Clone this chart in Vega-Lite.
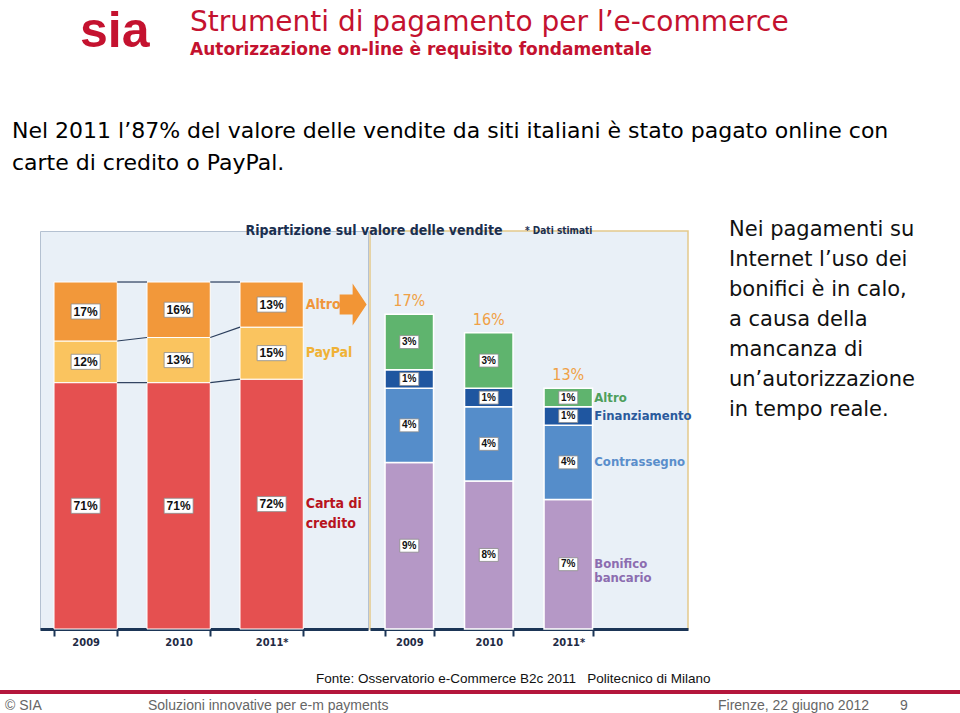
{
  "$schema": "https://vega.github.io/schema/vega-lite/v6.json",
  "padding": 0,
  "background": "white",
  "spacing": 0,
  "config": {"view": {"stroke": null}},
  "datasets": {
    "logo": [{"mark": "sia"}],
    "pay": [
      {"year": "2009", "cat": "Carta di\ncredito", "k": 1, "share": 0.71},
      {"year": "2009", "cat": "PayPal", "k": 2, "share": 0.12},
      {"year": "2009", "cat": "Altro", "k": 3, "share": 0.17},
      {"year": "2010", "cat": "Carta di\ncredito", "k": 1, "share": 0.71},
      {"year": "2010", "cat": "PayPal", "k": 2, "share": 0.13},
      {"year": "2010", "cat": "Altro", "k": 3, "share": 0.16},
      {"year": "2011*", "cat": "Carta di\ncredito", "k": 1, "share": 0.72},
      {"year": "2011*", "cat": "PayPal", "k": 2, "share": 0.15},
      {"year": "2011*", "cat": "Altro", "k": 3, "share": 0.13}
    ],
    "alt": [
      {"year": "2009", "cat": "Bonifico\nbancario", "k": 1, "share": 0.09},
      {"year": "2009", "cat": "Contrassegno", "k": 2, "share": 0.04},
      {"year": "2009", "cat": "Finanziamento", "k": 3, "share": 0.01},
      {"year": "2009", "cat": "Altro", "k": 4, "share": 0.03},
      {"year": "2010", "cat": "Bonifico\nbancario", "k": 1, "share": 0.08},
      {"year": "2010", "cat": "Contrassegno", "k": 2, "share": 0.04},
      {"year": "2010", "cat": "Finanziamento", "k": 3, "share": 0.01},
      {"year": "2010", "cat": "Altro", "k": 4, "share": 0.03},
      {"year": "2011*", "cat": "Bonifico\nbancario", "k": 1, "share": 0.07},
      {"year": "2011*", "cat": "Contrassegno", "k": 2, "share": 0.04},
      {"year": "2011*", "cat": "Finanziamento", "k": 3, "share": 0.01},
      {"year": "2011*", "cat": "Altro", "k": 4, "share": 0.01}
    ]
  },
  "vconcat": [
    {
      "width": 160,
      "height": 120,
      "data": {"name": "logo"},
      "title": {
        "text": "Strumenti di pagamento per l’e-commerce",
        "subtitle": "Autorizzazione on-line è requisito fondamentale",
        "anchor": "start",
        "dx": 190,
        "offset": -58,
        "font": "'DejaVu Sans', sans-serif",
        "fontSize": 28,
        "fontWeight": "normal",
        "color": "#C4122F",
        "subtitleFont": "'DejaVu Sans', sans-serif",
        "subtitleFontSize": 17,
        "subtitleFontWeight": "bold",
        "subtitleColor": "#C4122F",
        "subtitlePadding": 5
      },
      "mark": {"type": "text", "align": "left", "baseline": "alphabetic", "dx": 0, "dy": -13, "font": "'Liberation Sans', Arial, sans-serif", "fontSize": 50, "fontWeight": "bold", "color": "#C4122F"},
      "encoding": {"text": {"field": "mark"}}
    },
    {
      "spacing": 0,
      "title": {
        "text": ["Nel 2011 l’87% del valore delle vendite da siti italiani è stato pagato online con", "carte di credito o PayPal."],
        "anchor": "start",
        "dx": 12,
        "offset": 44,
        "font": "'DejaVu Sans', sans-serif",
        "fontSize": 22,
        "fontWeight": "normal",
        "lineHeight": 32,
        "color": "#000000"
      },
      "hconcat": [
        {"width": 39, "height": 440, "data": {"values": []}, "mark": "text"},
        {
          "spacing": 0,
          "resolve": {"scale": {"color": "independent", "fill": "independent", "x": "independent", "y": "independent"}},
          "title": {"text": "Ripartizione sul valore delle vendite", "anchor": "start", "dx": 206, "offset": -13, "font": "'Liberation Sans Narrow', 'DejaVu Sans Condensed', 'Liberation Sans', sans-serif", "fontSize": 14, "fontWeight": "bold", "color": "#1B2F50"},
          "hconcat": [
            {
              "width": 328,
              "height": 398,
              "data": {"name": "pay"},
              "view": {"fill": "#E9F0F7", "stroke": "#B4C1D1", "strokeWidth": 1},
              "transform": [{"stack": "share", "groupby": ["year"], "sort": [{"field": "k", "order": "ascending"}], "as": ["v0", "v1"]}],
              "encoding": {
                "x": {
                  "field": "year", "type": "nominal",
                  "scale": {"paddingInner": 0.32, "paddingOuter": 0.4235, "align": 0.178},
                  "axis": {"title": null, "labelAngle": 0, "domainColor": "#1B3556", "domainWidth": 3, "tickColor": "#1B3556", "tickWidth": 2, "tickSize": 7, "tickBand": "extent", "labelFont": "'Liberation Sans Narrow', 'DejaVu Sans Condensed', 'Liberation Sans', sans-serif", "labelFontSize": 11, "labelFontWeight": "bold", "labelColor": "#1F2B45", "labelPadding": 0, "grid": false}
                }
              },
              "layer": [
                {
                  "mark": {"type": "bar", "stroke": "white", "strokeWidth": 1},
                  "encoding": {
                    "y": {"field": "v0", "type": "quantitative", "scale": {"domain": [0, 1.147], "nice": false}, "axis": null},
                    "y2": {"field": "v1"},
                    "color": {"field": "cat", "type": "nominal", "scale": {"domain": ["Carta di\ncredito", "PayPal", "Altro"], "range": ["#E55050", "#FAC45F", "#F2983A"]}, "legend": null}
                  }
                },
                {
                  "transform": [
                    {"window": [{"op": "lead", "field": "v1", "as": "nv1"}, {"op": "lead", "field": "year", "as": "nyear"}], "groupby": ["cat"], "sort": [{"field": "year", "order": "ascending"}]},
                    {"filter": "datum.nyear != null"}
                  ],
                  "mark": {"type": "rule", "color": "#2B3E5C", "strokeWidth": 1.2},
                  "encoding": {
                    "x": {"field": "year", "type": "nominal", "bandPosition": 1},
                    "x2": {"field": "nyear", "bandPosition": 0},
                    "y": {"field": "v1", "type": "quantitative", "scale": {"domain": [0, 1.147], "nice": false}},
                    "y2": {"field": "nv1"}
                  }
                },
                {
                  "transform": [
                    {"fold": ["v0", "v1"], "as": ["edge", "pos"]},
                    {"aggregate": [{"op": "mean", "field": "pos", "as": "mid"}], "groupby": ["year", "cat", "share"]}
                  ],
                  "encoding": {"y": {"field": "mid", "type": "quantitative", "scale": {"domain": [0, 1.147], "nice": false}}},
                  "layer": [
                    {"mark": {"type": "point", "shape": "M-1,-0.52H1V0.52H-1Z", "size": 841, "filled": true, "fill": "white", "stroke": "#8C8C8C", "strokeWidth": 0.8, "opacity": 1}},
                    {"mark": {"type": "text", "font": "'Liberation Sans', Arial, sans-serif", "fontSize": 12, "fontWeight": "bold", "color": "#111111"}, "encoding": {"text": {"field": "share", "format": ".0%"}}},
                    {
                      "transform": [{"filter": "datum.year == '2011*'"}],
                      "mark": {"type": "text", "align": "left", "dx": 34, "font": "'Liberation Sans Narrow', 'DejaVu Sans Condensed', 'Liberation Sans', sans-serif", "fontSize": 14, "fontWeight": "bold", "lineBreak": "\n", "lineHeight": 20},
                      "encoding": {
                        "text": {"field": "cat"},
                        "fill": {"field": "cat", "type": "nominal", "scale": {"domain": ["Carta di\ncredito", "PayPal", "Altro"], "range": ["#B8141E", "#F0B236", "#F0963A"]}, "legend": null}
                      }
                    },
                    {
                      "transform": [{"filter": "datum.year == '2011*' && datum.cat == 'Altro'"}],
                      "mark": {"type": "point", "shape": "M3.4,-0.5H4.05V-1.05L4.75,0L4.05,1.05V0.5H3.4Z", "size": 1600, "filled": true, "fill": "#F29535", "strokeWidth": 0, "opacity": 1}
                    }
                  ]
                }
              ]
            },
            {
              "width": 318,
              "height": 398,
              "data": {"name": "alt"},
              "view": {"fill": "#E9F0F7", "stroke": "#E3C98C", "strokeWidth": 1.5},
              "title": {"text": "* Dati stimati", "anchor": "start", "dx": 155, "offset": -5, "font": "'Liberation Sans Narrow', 'DejaVu Sans Condensed', 'Liberation Sans', sans-serif", "fontSize": 10, "fontWeight": "bold", "color": "#1B2F50"},
              "transform": [{"stack": "share", "groupby": ["year"], "sort": [{"field": "k", "order": "ascending"}], "as": ["v0", "v1"]}],
              "encoding": {
                "x": {
                  "field": "year", "type": "nominal",
                  "scale": {"paddingInner": 0.39, "paddingOuter": 0.695, "align": 0.136},
                  "axis": {"title": null, "labelAngle": 0, "domainColor": "#1B3556", "domainWidth": 3, "tickColor": "#1B3556", "tickWidth": 2, "tickSize": 7, "tickBand": "extent", "labelFont": "'Liberation Sans Narrow', 'DejaVu Sans Condensed', 'Liberation Sans', sans-serif", "labelFontSize": 11, "labelFontWeight": "bold", "labelColor": "#1F2B45", "labelPadding": 0, "grid": false}
                }
              },
              "layer": [
                {
                  "mark": {"type": "bar", "stroke": "white", "strokeWidth": 1.5},
                  "encoding": {
                    "y": {"field": "v0", "type": "quantitative", "scale": {"domain": [0, 0.215], "nice": false}, "axis": null},
                    "y2": {"field": "v1"},
                    "color": {"field": "cat", "type": "nominal", "scale": {"domain": ["Bonifico\nbancario", "Contrassegno", "Finanziamento", "Altro"], "range": ["#B598C6", "#558DCA", "#1F56A0", "#5FB46E"]}, "legend": null}
                  }
                },
                {
                  "mark": {"type": "text", "baseline": "bottom", "dy": -5, "font": "'Liberation Sans Narrow', 'DejaVu Sans Condensed', 'Liberation Sans', sans-serif", "fontSize": 16, "color": "#F0A045"},
                  "encoding": {
                    "y": {"aggregate": "sum", "field": "share", "type": "quantitative", "scale": {"domain": [0, 0.215], "nice": false}},
                    "text": {"aggregate": "sum", "field": "share", "format": ".0%"}
                  }
                },
                {
                  "transform": [
                    {"fold": ["v0", "v1"], "as": ["edge", "pos"]},
                    {"aggregate": [{"op": "mean", "field": "pos", "as": "mid"}], "groupby": ["year", "cat", "share"]}
                  ],
                  "encoding": {"y": {"field": "mid", "type": "quantitative", "scale": {"domain": [0, 0.215], "nice": false}}},
                  "layer": [
                    {"mark": {"type": "point", "shape": "M-1,-0.68H1V0.68H-1Z", "size": 361, "filled": true, "fill": "white", "stroke": "#8C8C8C", "strokeWidth": 0.8, "opacity": 1}},
                    {"mark": {"type": "text", "font": "'Liberation Sans', Arial, sans-serif", "fontSize": 10, "fontWeight": "bold", "color": "#111111"}, "encoding": {"text": {"field": "share", "format": ".0%"}}},
                    {
                      "transform": [{"filter": "datum.year == '2011*'"}],
                      "mark": {"type": "text", "align": "left", "dx": 26, "font": "'Liberation Sans Narrow', 'DejaVu Sans Condensed', 'Liberation Sans', sans-serif", "fontSize": 13, "fontWeight": "bold", "lineBreak": "\n", "lineHeight": 14},
                      "encoding": {
                        "text": {"field": "cat"},
                        "fill": {"field": "cat", "type": "nominal", "scale": {"domain": ["Bonifico\nbancario", "Contrassegno", "Finanziamento", "Altro"], "range": ["#8C6DB0", "#5A8ECB", "#2A5A9C", "#4E9F5C"]}, "legend": null}
                      }
                    }
                  ]
                }
              ]
            }
          ]
        },
        {
          "width": 275,
          "height": 398,
          "data": {"values": []},
          "mark": "text",
          "title": {
            "text": ["Nei pagamenti su", "Internet l’uso dei", "bonifici è in calo,", "a causa della", "mancanza di", "un’autorizzazione", "in tempo reale."],
            "anchor": "start",
            "dx": 36,
            "offset": -189,
            "font": "'DejaVu Sans', sans-serif",
            "fontSize": 21,
            "fontWeight": "normal",
            "lineHeight": 30,
            "color": "#111111"
          }
        }
      ]
    },
    {
      "spacing": 0,
      "title": {
        "text": "Fonte: Osservatorio e-Commerce B2c 2011\u00a0\u00a0 Politecnico di Milano",
        "anchor": "start",
        "dx": 316,
        "offset": 5,
        "font": "'Liberation Sans', Arial, sans-serif",
        "fontSize": 13.5,
        "fontWeight": "normal",
        "color": "#111111"
      },
      "hconcat": [
        {"width": 143, "height": 4, "data": {"values": []}, "mark": "text", "view": {"fill": "#B4163C", "stroke": null},
         "title": {"text": "© SIA", "orient": "bottom", "anchor": "start", "dx": 5, "offset": 5, "font": "'Liberation Sans', Arial, sans-serif", "fontSize": 14, "fontWeight": "normal", "color": "#666666"}},
        {"width": 570, "height": 4, "data": {"values": []}, "mark": "text", "view": {"fill": "#B4163C", "stroke": null},
         "title": {"text": "Soluzioni innovative per e-m payments", "orient": "bottom", "anchor": "start", "dx": 5, "offset": 5, "font": "'Liberation Sans', Arial, sans-serif", "fontSize": 14, "fontWeight": "normal", "color": "#666666"}},
        {"width": 182, "height": 4, "data": {"values": []}, "mark": "text", "view": {"fill": "#B4163C", "stroke": null},
         "title": {"text": "Firenze, 22 giugno 2012", "orient": "bottom", "anchor": "start", "dx": 5, "offset": 5, "font": "'Liberation Sans', Arial, sans-serif", "fontSize": 14, "fontWeight": "normal", "color": "#666666"}},
        {"width": 65, "height": 4, "data": {"values": []}, "mark": "text", "view": {"fill": "#B4163C", "stroke": null},
         "title": {"text": "9", "orient": "bottom", "anchor": "start", "dx": 5, "offset": 5, "font": "'Liberation Sans', Arial, sans-serif", "fontSize": 14, "fontWeight": "normal", "color": "#666666"}}
      ]
    }
  ]
}
